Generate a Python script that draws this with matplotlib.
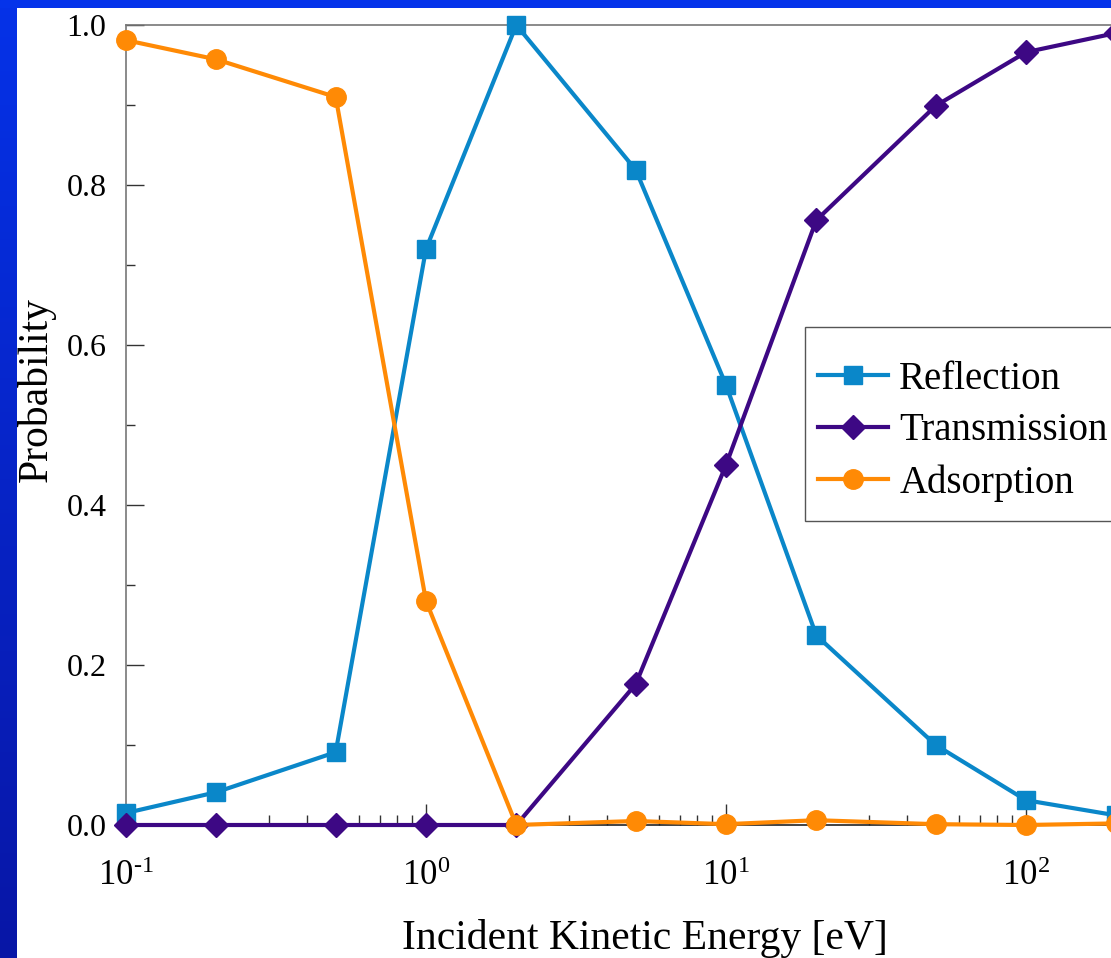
import numpy as np
import matplotlib
matplotlib.use('Agg')
import matplotlib.pyplot as plt
from matplotlib.ticker import FixedLocator, FuncFormatter, MultipleLocator

plt.rcParams['font.family'] = ['Liberation Serif', 'DejaVu Serif']
plt.rcParams['mathtext.fontset'] = 'custom'
plt.rcParams['mathtext.rm'] = 'Liberation Serif'

# データ
energy = [0.1, 0.2, 0.5, 1, 2, 5, 10, 20, 50, 100, 200]
reflection = [0.015, 0.041, 0.091, 0.72, 1.0, 0.819, 0.55, 0.237, 0.1, 0.031, 0.012]
transmission = [0.0, 0.0, 0.0, 0.0, 0.0, 0.176, 0.45, 0.756, 0.899, 0.966, 0.99]
adsorption = [0.981, 0.957, 0.91, 0.28, 0.0, 0.005, 0.001, 0.006, 0.001, 0.0, 0.002]
labels = ["Reflection", "Transmission", "Adsorption"]
xticks = [0.1, 1, 10, 100]

W, H = 1111, 958
fig = plt.figure(figsize=(W / 100, H / 100), dpi=100, facecolor='white')

# スライド背景の青い縁
band = fig.add_axes([0, 0, 17 / W, 1])
grad = np.linspace(0, 1, 256).reshape(-1, 1)
top_c = np.array([0x05, 0x32, 0xE8]) / 255
bot_c = np.array([0x08, 0x16, 0xA6]) / 255
img = (1 - grad)[:, :, None] * top_c + grad[:, :, None] * bot_c
band.imshow(img, aspect='auto', extent=[0, 1, 0, 1])
band.axis('off')
topband = fig.add_axes([0, 1 - 8 / H, 1, 8 / H])
topband.axis('off')
topband.add_patch(plt.Rectangle((0, 0), 1, 1, color='#0533ea', transform=topband.transAxes))

ax = fig.add_axes([126 / W, 133 / H, 1200 / W, 800 / H])
ax.set_xscale('log')
ax.set_xlim(0.1, 1000)
ax.set_ylim(0, 1)

ax.plot(energy, reflection, color='#0a87c9', lw=3, marker='s', ms=13, clip_on=False, label=labels[0], zorder=3)
ax.plot(energy, transmission, color='#3d0884', lw=3, marker='D', ms=12, clip_on=False, label=labels[1], zorder=4)
ax.plot(energy, adsorption, color='#ff8a05', lw=3, marker='o', ms=14, clip_on=False, label=labels[2], zorder=5)

for s in ['left', 'top', 'right']:
    ax.spines[s].set_color('#777777')
    ax.spines[s].set_linewidth(1.2)
ax.spines['bottom'].set_color('#222222')
ax.spines['bottom'].set_linewidth(1.2)

ax.xaxis.set_major_locator(FixedLocator(xticks))
ax.xaxis.set_minor_locator(FixedLocator([m * 10.0 ** e for e in range(-1, 3) for m in range(2, 10)]))
ax.xaxis.set_major_formatter(FuncFormatter(lambda v, p: r'$\mathregular{10^{%s}}$' % str(round(np.log10(v))).replace('-', '‐')))
ax.xaxis.set_minor_formatter(FuncFormatter(lambda v, p: ''))
ax.yaxis.set_major_locator(MultipleLocator(0.2))
ax.yaxis.set_minor_locator(MultipleLocator(0.1))
ax.yaxis.set_major_formatter(FuncFormatter(lambda v, p: '%.1f' % v))

ax.tick_params(which='both', direction='in', top=False, right=False, color='#333333', width=1)
ax.tick_params(axis='y', which='major', length=13, labelsize=23, pad=14)
ax.tick_params(axis='y', which='minor', length=6.5)
ax.tick_params(axis='x', which='major', length=15, labelsize=25, pad=25)
ax.tick_params(axis='x', which='minor', length=7)

ax.set_xlabel('Incident Kinetic Energy [eV]', fontsize=30)
ax.xaxis.set_label_coords((645 - 126) / 1200, -0.117)
ax.set_ylabel('Probability', fontsize=30)
ax.yaxis.set_label_coords((56 - 126) / 1200, 0.544)

# 凡例（枠は別に描く）
leg = ax.legend(loc='upper left', bbox_to_anchor=(806 / W, 1 - 349 / H), bbox_transform=fig.transFigure,
                fontsize=28, borderaxespad=0, borderpad=0.3, handlelength=1.8, handletextpad=0.3,
                labelspacing=0.38, frameon=False)
frame = plt.Rectangle((805 / W, 1 - 521 / H), 320 / W, 194 / H, transform=fig.transFigure,
                      facecolor='white', edgecolor='#555555', lw=1.0, zorder=6)
ax.add_artist(frame)
leg.set_zorder(7)

fig.savefig('out.png', dpi=100, facecolor='white')
